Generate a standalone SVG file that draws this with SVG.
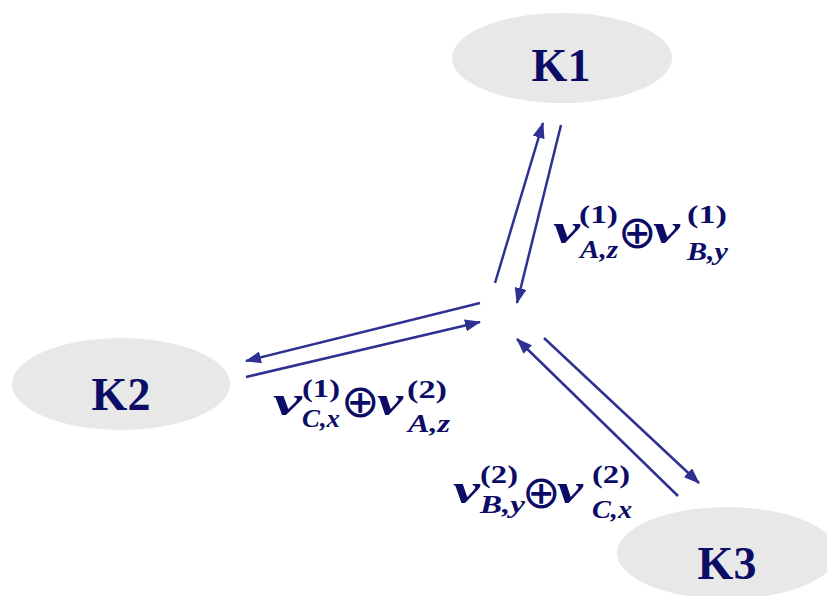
<svg xmlns="http://www.w3.org/2000/svg" width="827" height="596" viewBox="0 0 827 596">
<style>
.node{fill:#e8e8e8;stroke:none}
.klab{font-family:"Liberation Serif",serif;font-weight:bold;font-size:46px;fill:#0c0c66;text-anchor:middle}
.conn{stroke:#2e3192;stroke-width:2.5;fill:none;marker-end:url(#ah)}
.mv{font-family:"Liberation Serif",serif;font-weight:bold;font-style:italic;font-size:42px;fill:#0c0c66}
.sup{font-family:"Liberation Serif",serif;font-weight:bold;font-size:26px;fill:#0c0c66}
.sub{font-family:"Liberation Serif",serif;font-weight:bold;font-style:italic;font-size:25px;fill:#0c0c66}
.op{font-family:"DejaVu Sans",sans-serif;font-size:46px;fill:#0c0c66;letter-spacing:-14px}
</style>
<defs>
<marker id="ah" markerUnits="userSpaceOnUse" markerWidth="16" markerHeight="12" refX="15" refY="6" orient="auto">
<path d="M0,0 L16,6 L0,12 z" fill="#2e3192"/>
</marker>
</defs>
<rect width="827" height="596" fill="#ffffff"/>
<g id="K1">
<ellipse class="node" cx="562" cy="58" rx="110" ry="45"/>
<text class="klab" x="561" y="81">K1</text>
</g>
<g id="K2">
<ellipse class="node" cx="121" cy="384" rx="109" ry="46"/>
<text class="klab" x="121" y="410">K2</text>
</g>
<g id="K3">
<ellipse class="node" cx="727" cy="553" rx="110" ry="46"/>
<text class="klab" x="727" y="579">K3</text>
</g>
<g id="connectors">
<line class="conn" x1="495" y1="283" x2="543" y2="123"/>
<line class="conn" x1="561" y1="125" x2="517" y2="303"/>
<line class="conn" x1="480" y1="303" x2="246" y2="361"/>
<line class="conn" x1="246" y1="377" x2="480" y2="322"/>
<line class="conn" x1="678" y1="496" x2="517" y2="339"/>
<line class="conn" x1="544" y1="338" x2="699" y2="483"/>
</g>
<g id="label1">
<text class="mv" x="553" y="243" textLength="27" lengthAdjust="spacingAndGlyphs">v</text>
<text class="sup" x="579" y="223" textLength="39" lengthAdjust="spacingAndGlyphs">(1)</text>
<text class="sub" x="580" y="258" textLength="38" lengthAdjust="spacingAndGlyphs">A,z</text>
<text class="op" x="618" y="248">⊕</text>
<text class="mv" x="653" y="243" textLength="27" lengthAdjust="spacingAndGlyphs">v</text>
<text class="sup" x="687" y="223" textLength="40" lengthAdjust="spacingAndGlyphs">(1)</text>
<text class="sub" x="687" y="260" textLength="41" lengthAdjust="spacingAndGlyphs">B,y</text>
</g>
<g id="label2">
<text class="mv" x="273" y="415" textLength="29" lengthAdjust="spacingAndGlyphs">v</text>
<text class="sup" x="302" y="397" textLength="38" lengthAdjust="spacingAndGlyphs">(1)</text>
<text class="sub" x="302" y="427" textLength="38" lengthAdjust="spacingAndGlyphs">C,x</text>
<text class="op" x="341" y="417">⊕</text>
<text class="mv" x="377" y="415" textLength="26" lengthAdjust="spacingAndGlyphs">v</text>
<text class="sup" x="407" y="398" textLength="40" lengthAdjust="spacingAndGlyphs">(2)</text>
<text class="sub" x="408" y="432" textLength="42" lengthAdjust="spacingAndGlyphs">A,z</text>
</g>
<g id="label3">
<text class="mv" x="453" y="503" textLength="27" lengthAdjust="spacingAndGlyphs">v</text>
<text class="sup" x="480" y="483" textLength="38" lengthAdjust="spacingAndGlyphs">(2)</text>
<text class="sub" x="480" y="513" textLength="45" lengthAdjust="spacingAndGlyphs">B,y</text>
<text class="op" x="522" y="508">⊕</text>
<text class="mv" x="557" y="503" textLength="26" lengthAdjust="spacingAndGlyphs">v</text>
<text class="sup" x="592" y="483" textLength="38" lengthAdjust="spacingAndGlyphs">(2)</text>
<text class="sub" x="592" y="518" textLength="40" lengthAdjust="spacingAndGlyphs">C,x</text>
</g>
</svg>
